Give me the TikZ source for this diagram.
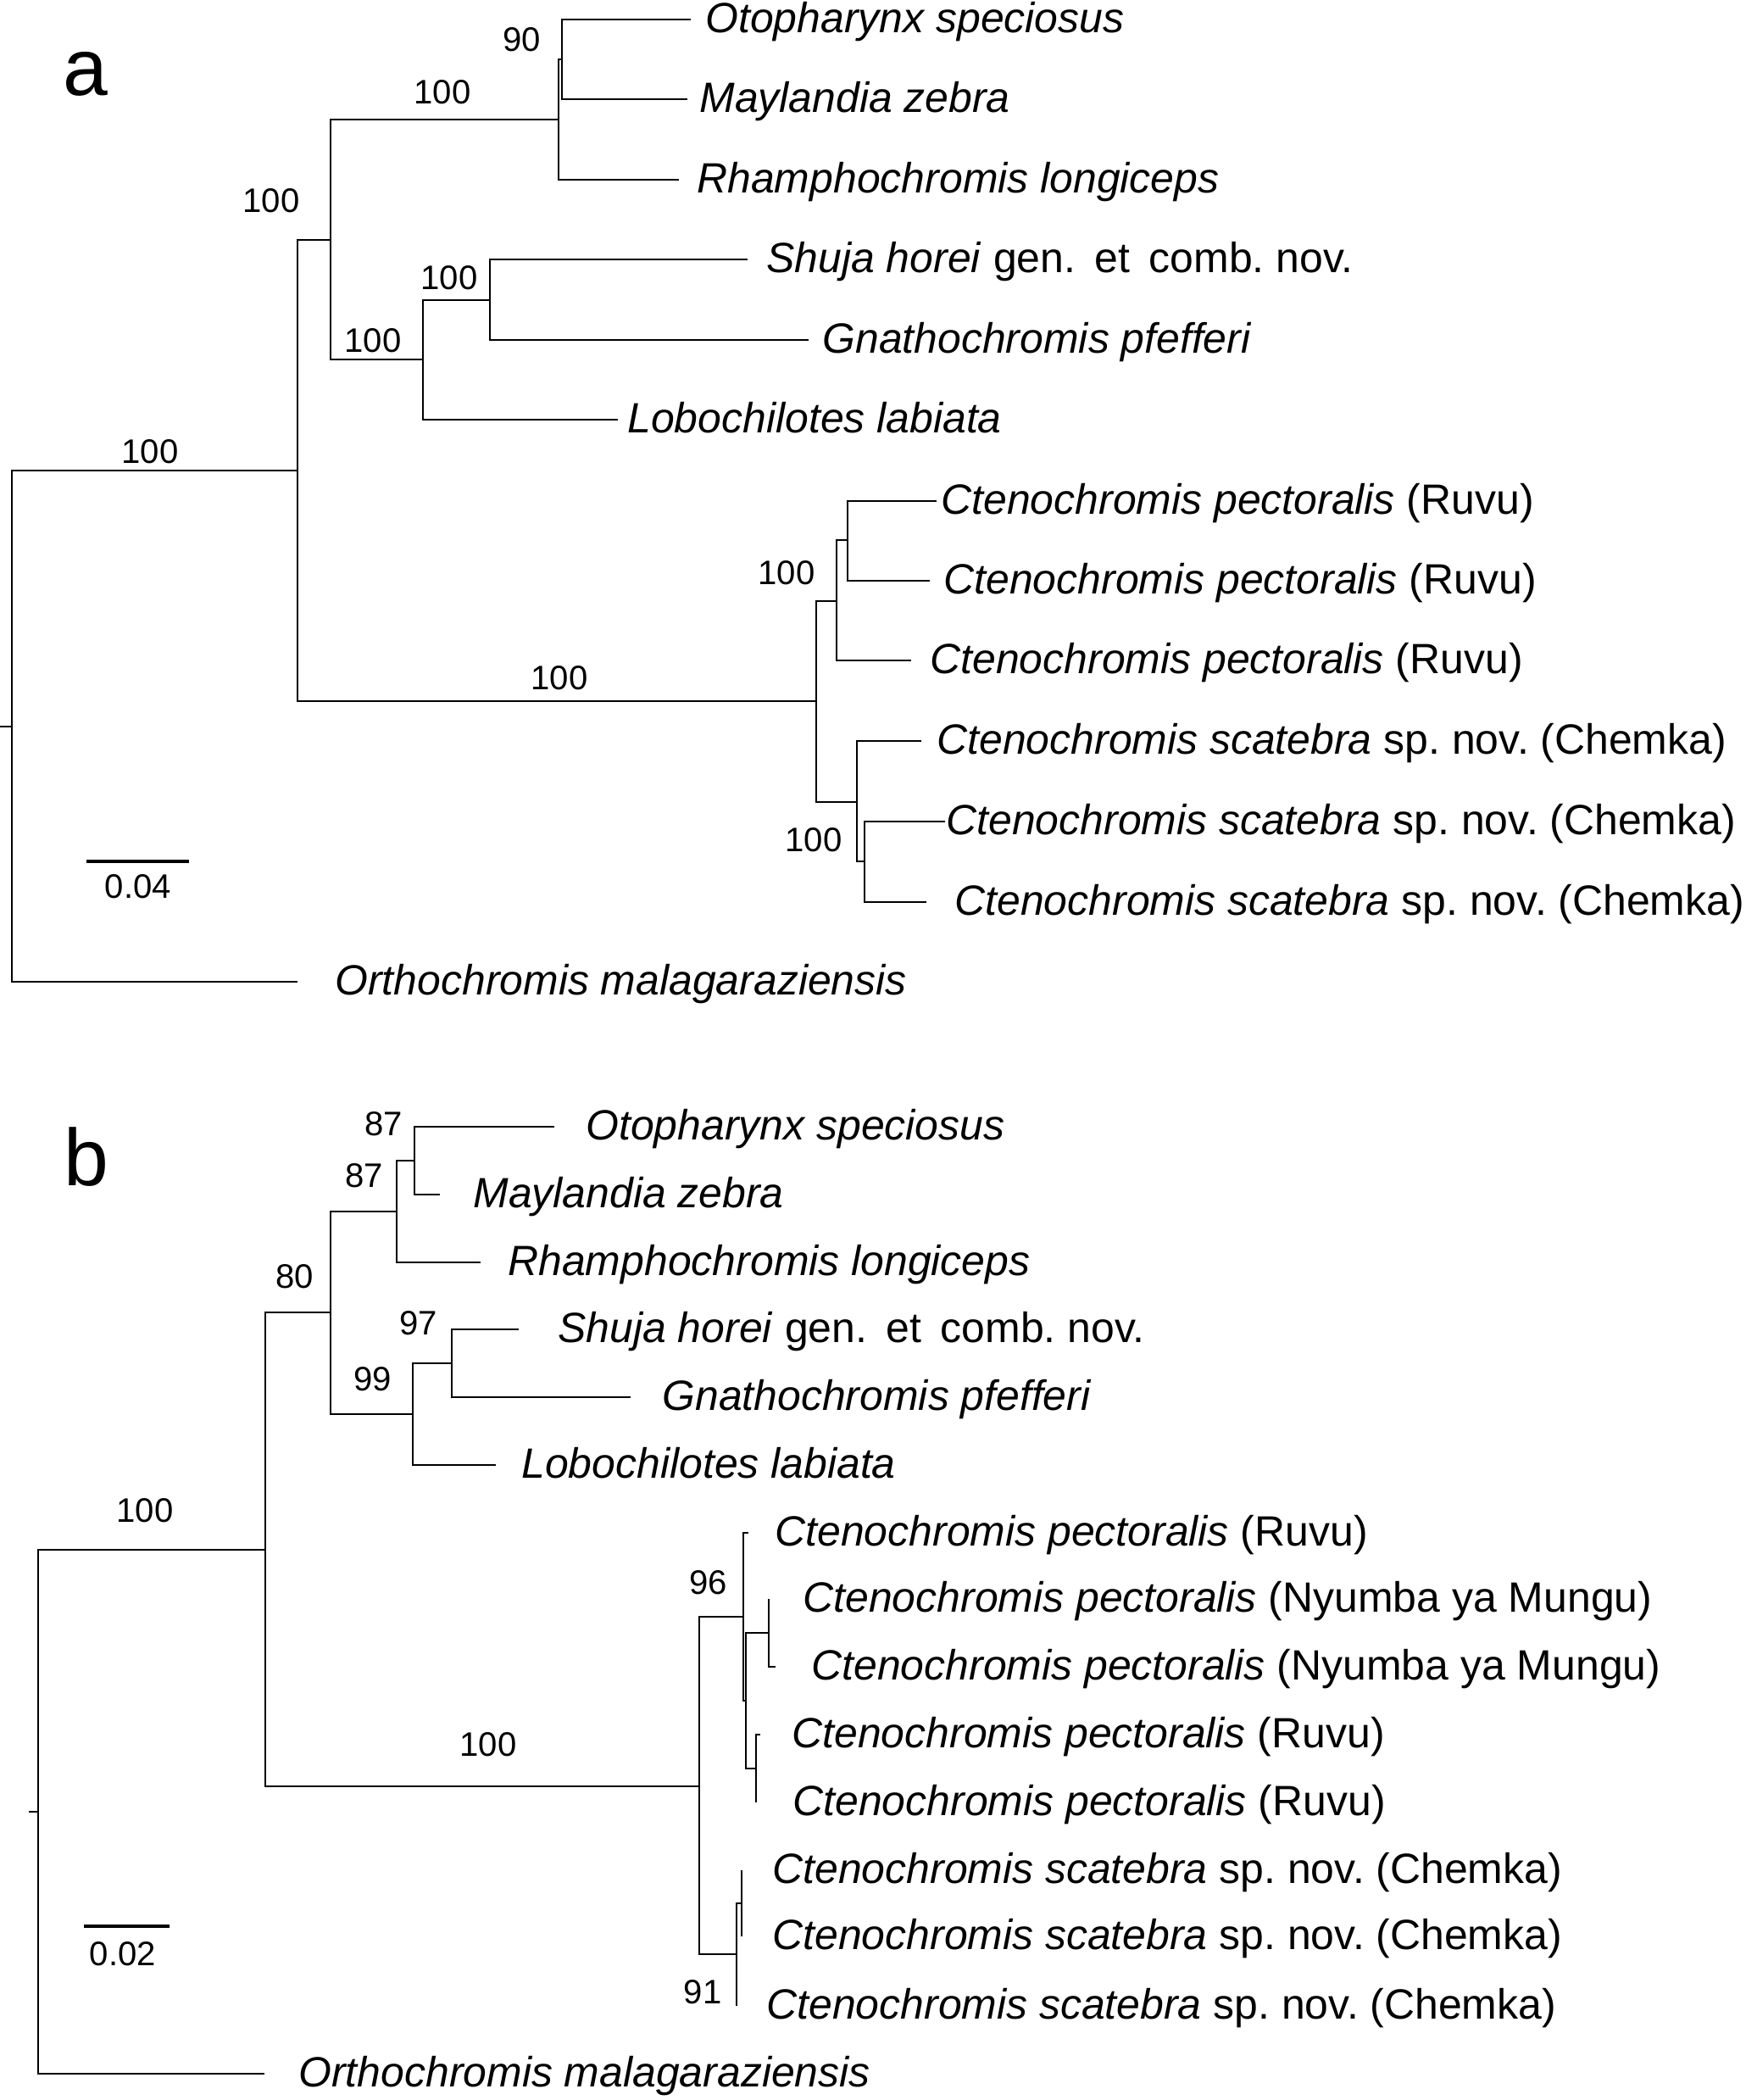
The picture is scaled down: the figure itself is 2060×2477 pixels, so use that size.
\documentclass[tikz,border=0pt]{standalone}
\usepackage{fontspec}
\setmainfont{Liberation Sans}
\usepackage{tikz}

\newcommand{\pectlab}[1]{\textit{Ctenochromis pectoralis} (#1)}
\newcommand{\scatlab}{\textit{Ctenochromis scatebra} sp. nov. (Chemka)}
\newcommand{\shujalab}{\textit{Shuja horei} gen.\hspace{0.45em}et\hspace{0.45em}comb. nov.}

\begin{document}
\frenchspacing
\begin{tikzpicture}[x=0.01cm, y=-0.01cm, line width=0.8pt,
  taxon/.style={anchor=base west, inner sep=0pt, yshift=-0.155cm, font=\fontsize{14.2}{17}\selectfont},
  boot/.style={inner sep=0pt, font=\fontsize{11.4}{13}\selectfont},
  panel/.style={inner sep=0pt, font=\fontsize{27}{30}\selectfont},
  scalebar/.style={line width=1.2pt}]
  \useasboundingbox[fill=white] (0,0) rectangle (2060,2477);

  % ---------- panel a ----------
  \node[panel] (aLab) at (101,87) {a};
  \coordinate (aRoot) at (14,857);
  \coordinate (aRoot-t) at (0,857);
  \coordinate (aIn) at (351,555);
  \coordinate (aHap) at (390,283);
  \coordinate (aMal) at (659,141);
  \coordinate (aOM) at (663,70);
  \coordinate (aLam) at (499,424);
  \coordinate (aSG) at (578,354);
  \coordinate (aCte) at (963,827);
  \coordinate (aPec) at (987,709);
  \coordinate (aPec2) at (1000,637);
  \coordinate (aSca) at (1011,946);
  \coordinate (aSca2) at (1020,1016);
  % branch ends
  \coordinate (aOto-e) at (815,23);
  \coordinate (aMay-e) at (811,117);
  \coordinate (aRha-e) at (801,212);
  \coordinate (aShu-e) at (882,306);
  \coordinate (aGna-e) at (954,401);
  \coordinate (aLob-e) at (729,495);
  \coordinate (aPe1-e) at (1105,591);
  \coordinate (aPe2-e) at (1097,685);
  \coordinate (aPe3-e) at (1075,779);
  \coordinate (aSc1-e) at (1087,874);
  \coordinate (aSc2-e) at (1115,969);
  \coordinate (aSc3-e) at (1093,1064);
  \coordinate (aOrt-e) at (351,1158);

  \node[taxon] (aOto) at (831,23) {\textit{Otopharynx speciosus}};
  \node[taxon] (aMay) at (824,117) {\textit{Maylandia zebra}};
  \node[taxon] (aRha) at (821,212) {\textit{Rhamphochromis longiceps}};
  \node[taxon] (aShu) at (903,306) {\shujalab};
  \node[taxon] (aGna) at (969,401) {\textit{Gnathochromis pfefferi}};
  \node[taxon] (aLob) at (739,495) {\textit{Lobochilotes labiata}};
  \node[taxon] (aPe1) at (1109,591) {\pectlab{Ruvu}};
  \node[taxon] (aPe2) at (1112,685) {\pectlab{Ruvu}};
  \node[taxon] (aPe3) at (1096,779) {\pectlab{Ruvu}};
  \node[taxon] (aSc1) at (1104,874) {\scatlab};
  \node[taxon] (aSc2) at (1115,969) {\scatlab};
  \node[taxon] (aSc3) at (1125,1064) {\scatlab};
  \node[taxon] (aOrt) at (394,1158) {\textit{Orthochromis malagaraziensis}};

  \draw (aRoot-t) -- (aRoot);
  \draw (aIn) -| (aRoot) |- (aOrt-e);
  \draw (aHap) -| (aIn) |- (aCte);
  \draw (aMal) -| (aHap) |- (aLam);
  \draw (aOM) -| (aMal) |- (aRha-e);
  \draw (aOto-e) -| (aOM) |- (aMay-e);
  \draw (aSG) -| (aLam) |- (aLob-e);
  \draw (aShu-e) -| (aSG) |- (aGna-e);
  \draw (aPec) -| (aCte) |- (aSca);
  \draw (aPec2) -| (aPec) |- (aPe3-e);
  \draw (aPe1-e) -| (aPec2) |- (aPe2-e);
  \draw (aSc1-e) -| (aSca) |- (aSca2);
  \draw (aSc2-e) -| (aSca2) |- (aSc3-e);

  \node[boot] (aBoot1) at (616,47) {90};
  \node[boot] (aBoot2) at (522,109) {100};
  \node[boot] (aBoot3) at (320,237) {100};
  \node[boot] (aBoot4) at (530,328) {100};
  \node[boot] (aBoot5) at (440,402) {100};
  \node[boot] (aBoot6) at (177,533) {100};
  \node[boot] (aBoot7) at (660,800) {100};
  \node[boot] (aBoot8) at (928,676) {100};
  \node[boot] (aBoot9) at (960,991) {100};

  \draw[scalebar] (102,1016) -- (223,1016);
  \node[boot] (aScale) at (163,1046) {0.04};

  % ---------- panel b ----------
  \node[panel] (bLab) at (102,1365) {b};
  \coordinate (bRoot) at (45,2137);
  \coordinate (bRoot-t) at (34,2137);
  \coordinate (bIn) at (313,1828);
  \coordinate (bHap) at (390,1548);
  \coordinate (bMal) at (468,1429);
  \coordinate (bOM) at (489,1369);
  \coordinate (bLam) at (487,1668);
  \coordinate (bSG) at (533,1608);
  \coordinate (bCte) at (825,2107);
  \coordinate (bPec) at (877,1907);
  \coordinate (bPB) at (880,2006);
  \coordinate (bNy) at (907,1926);
  \coordinate (bRu) at (892,2086);
  \coordinate (bSca) at (869,2305);
  \coordinate (bSca2) at (875,2245);
  % branch ends
  \coordinate (bOto-e) at (654,1329);
  \coordinate (bMay-e) at (519,1409);
  \coordinate (bRha-e) at (567,1489);
  \coordinate (bShu-e) at (612,1568);
  \coordinate (bGna-e) at (744,1648);
  \coordinate (bLob-e) at (585,1728);
  \coordinate (bPe1-e) at (883,1808);
  \coordinate (bNy1-e) at (907,1886);
  \coordinate (bNy2-e) at (915,1966);
  \coordinate (bRu1-e) at (897,2046);
  \coordinate (bRu2-e) at (892,2126);
  \coordinate (bSc1-e) at (875,2206);
  \coordinate (bSc2-e) at (875,2284);
  \coordinate (bSc3-e) at (869,2366);
  \coordinate (bOrt-e) at (312,2446);

  \node[taxon] (bOto) at (690,1329) {\textit{Otopharynx speciosus}};
  \node[taxon] (bMay) at (557,1409) {\textit{Maylandia zebra}};
  \node[taxon] (bRha) at (598,1489) {\textit{Rhamphochromis longiceps}};
  \node[taxon] (bShu) at (657,1568) {\shujalab};
  \node[taxon] (bGna) at (780,1648) {\textit{Gnathochromis pfefferi}};
  \node[taxon] (bLob) at (614,1728) {\textit{Lobochilotes labiata}};
  \node[taxon] (bPe1) at (913,1808) {\pectlab{Ruvu}};
  \node[taxon] (bNy1) at (946,1886) {\pectlab{Nyumba ya Mungu}};
  \node[taxon] (bNy2) at (956,1966) {\pectlab{Nyumba ya Mungu}};
  \node[taxon] (bRu1) at (933,2046) {\pectlab{Ruvu}};
  \node[taxon] (bRu2) at (934,2126) {\pectlab{Ruvu}};
  \node[taxon] (bSc1) at (910,2206) {\scatlab};
  \node[taxon] (bSc2) at (910,2284) {\scatlab};
  \node[taxon] (bSc3) at (903,2366) {\scatlab};
  \node[taxon] (bOrt) at (351,2446) {\textit{Orthochromis malagaraziensis}};

  \draw (bRoot-t) -- (bRoot);
  \draw (bIn) -| (bRoot) |- (bOrt-e);
  \draw (bHap) -| (bIn) |- (bCte);
  \draw (bMal) -| (bHap) |- (bLam);
  \draw (bOM) -| (bMal) |- (bRha-e);
  \draw (bOto-e) -| (bOM) |- (bMay-e);
  \draw (bSG) -| (bLam) |- (bLob-e);
  \draw (bShu-e) -| (bSG) |- (bGna-e);
  \draw (bPec) -| (bCte) |- (bSca);
  \draw (bPe1-e) -| (bPec) |- (bPB);
  \draw (bNy) -| (bPB) |- (bRu);
  \draw (bNy1-e) -| (bNy) |- (bNy2-e);
  \draw (bRu1-e) -| (bRu) |- (bRu2-e);
  \draw (bSca2) -| (bSca) |- (bSc3-e);
  \draw (bSc1-e) -| (bSca2) |- (bSc2-e);

  \node[boot] (bBoot1) at (453,1326) {87};
  \node[boot] (bBoot2) at (430,1387) {87};
  \node[boot] (bBoot3) at (348,1506) {80};
  \node[boot] (bBoot4) at (494,1561) {97};
  \node[boot] (bBoot5) at (440,1627) {99};
  \node[boot] (bBoot6) at (171,1782) {100};
  \node[boot] (bBoot7) at (576,2058) {100};
  \node[boot] (bBoot8) at (836,1867) {96};
  \node[boot] (bBoot9) at (829,2350) {91};

  \draw[scalebar] (99,2272) -- (200,2272);
  \node[boot] (bScale) at (145,2305) {0.02};
\end{tikzpicture}
\end{document}
